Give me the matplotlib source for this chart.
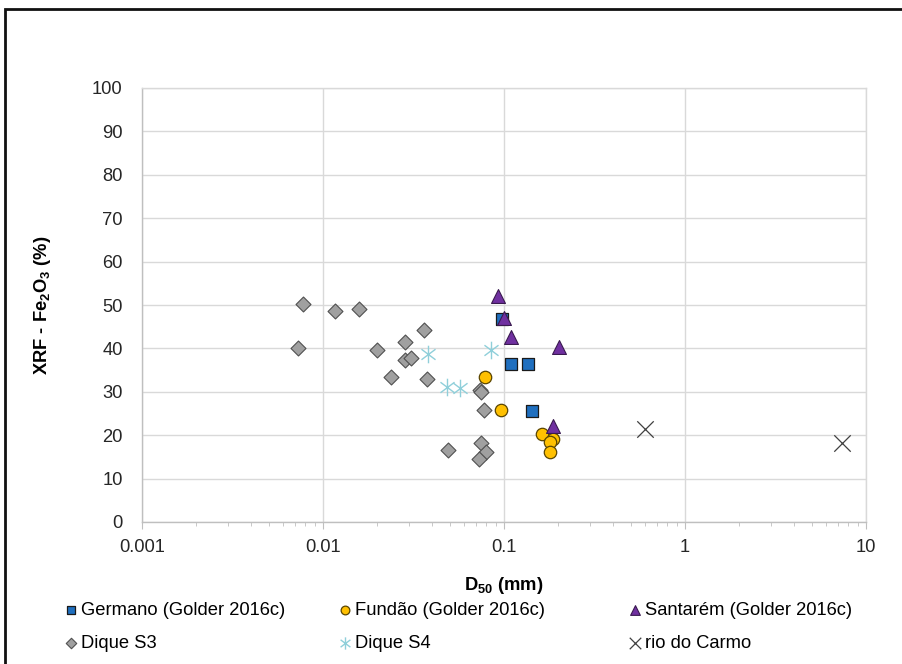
import matplotlib
matplotlib.use("Agg")
import matplotlib.pyplot as plt
from matplotlib.path import Path
from matplotlib.patches import Rectangle
from matplotlib.ticker import FixedLocator, LogLocator, FuncFormatter, NullFormatter

plt.rcParams["font.family"] = ["Liberation Sans", "DejaVu Sans"]
plt.rcParams["mathtext.fontset"] = "custom"
plt.rcParams["mathtext.rm"] = "Liberation Sans"
plt.rcParams["mathtext.bf"] = "Liberation Sans:bold"

# data (D50 in mm, Fe2O3 in %)
germano_x = [0.098, 0.110, 0.136, 0.142]
germano_y = [46.8, 36.5, 36.5, 25.5]

fundao_x = [0.079, 0.096, 0.163, 0.187, 0.179, 0.179]
fundao_y = [33.3, 25.8, 20.2, 19.2, 18.5, 16.2]

santarem_x = [0.093, 0.100, 0.109, 0.202, 0.186]
santarem_y = [52.0, 46.9, 42.7, 40.4, 22.2]

dique_s3_x = [0.0078, 0.0073, 0.0116, 0.0158, 0.036, 0.0285, 0.020, 0.0283, 0.0306,
              0.0237, 0.0376, 0.0736, 0.075, 0.078, 0.0493, 0.0743, 0.0795, 0.0725]
dique_s3_y = [50.2, 40.2, 48.6, 49.1, 44.2, 41.4, 39.6, 37.3, 37.7,
              33.5, 33.0, 30.4, 30.0, 25.7, 16.5, 18.2, 16.2, 14.6]

dique_s4_x = [0.038, 0.0482, 0.0569, 0.0845]
dique_s4_y = [38.6, 31.2, 30.9, 39.6]

rio_x = [0.601, 7.4]
rio_y = [21.5, 18.2]

x_ticks = [0.001, 0.01, 0.1, 1, 10]
y_ticks = list(range(0, 101, 10))

# Excel style asterisk: vertical bar plus an X
asterisk = Path(
    [(0, -1), (0, 1), (-0.8, -0.6), (0.8, 0.6), (-0.8, 0.6), (0.8, -0.6)],
    [Path.MOVETO, Path.LINETO, Path.MOVETO, Path.LINETO, Path.MOVETO, Path.LINETO],
)

fig = plt.figure(figsize=(9.02, 6.64), dpi=100)
ax = fig.add_axes([142 / 902, 1 - 522 / 664, (866 - 142) / 902, (522 - 88) / 664])

ax.scatter(germano_x, germano_y, marker="s", s=80, c="#1F6FBF", edgecolors="#1a1a1a",
           linewidths=0.9, zorder=3, label="Germano (Golder 2016c)")
ax.scatter(fundao_x, fundao_y, marker="o", s=80, c="#FFC000", edgecolors="#5a4500",
           linewidths=0.9, zorder=3, label="Fundão (Golder 2016c)")
ax.scatter(santarem_x, santarem_y, marker="^", s=100, c="#7030A0", edgecolors="#3a1a50",
           linewidths=0.8, zorder=3, label="Santarém (Golder 2016c)")
ax.scatter(dique_s3_x, dique_s3_y, marker="D", s=58, c="#A0A0A0", edgecolors="#505050",
           linewidths=0.8, zorder=3, label="Dique S3")
ax.scatter(dique_s4_x, dique_s4_y, marker=asterisk, s=160, c="#8FCFDA", linewidths=1.0,
           zorder=3, label="Dique S4")
ax.scatter(rio_x, rio_y, marker="x", s=140, c="#404040", linewidths=0.9,
           zorder=3, label="rio do Carmo")

ax.set_xscale("log")
ax.set_xlim(0.001, 10)
ax.set_ylim(0, 100)
ax.xaxis.set_major_locator(FixedLocator(x_ticks))
ax.xaxis.set_major_formatter(FuncFormatter(lambda v, p: f"{v:g}"))
ax.xaxis.set_minor_locator(LogLocator(base=10, subs=range(2, 10)))
ax.xaxis.set_minor_formatter(NullFormatter())
ax.set_yticks(y_ticks)

ax.grid(True, which="major", color="#D9D9D9", linewidth=1.0)
ax.set_axisbelow(True)
for side in ["left", "bottom"]:
    ax.spines[side].set_color("#BFBFBF")
for side in ["top", "right"]:
    ax.spines[side].set_color("#D9D9D9")
for sp in ax.spines.values():
    sp.set_linewidth(1.0)

ax.tick_params(axis="x", which="major", length=5, color="#BFBFBF", pad=7,
               labelsize=13.2, labelcolor="#262626")
ax.tick_params(axis="x", which="minor", length=3, color="#BFBFBF")
ax.tick_params(axis="y", length=0, pad=14, labelsize=13.2, labelcolor="#262626")

ax.set_xlabel(r"D$_\mathbf{50}$ (mm)", fontsize=13.2, fontweight="bold", labelpad=14,
              color="#000000")
ax.set_ylabel(r"XRF - Fe$_\mathbf{2}$O$_\mathbf{3}$ (%)", fontsize=13.2, fontweight="bold",
              color="#000000")
ax.yaxis.set_label_coords(-0.1234, 0.5)

# legend: three columns of two rows, placed like the Excel legend
handles, labels = ax.get_legend_handles_labels()
col_x = [64, 338, 628]
for col, x0 in enumerate(col_x):
    idx = [col, col + 3]
    leg = fig.legend([handles[i] for i in idx], [labels[i] for i in idx],
                     loc="upper left", bbox_to_anchor=(x0 / 902, 1 - 602 / 664),
                     frameon=False, fontsize=13.2, handletextpad=0.15, handlelength=0.8,
                     labelspacing=0.85, markerscale=0.7, borderaxespad=0, borderpad=0)
    for t in leg.get_texts():
        t.set_color("#000000")

# outer chart border, cut by the right and bottom edges of the image
fig.patches.append(Rectangle((5 / 902, -0.5), 2.0, 1.5 - 9 / 664, transform=fig.transFigure,
                             fill=False, edgecolor="#111111", linewidth=2.0))

fig.savefig("out.png", dpi=100)
